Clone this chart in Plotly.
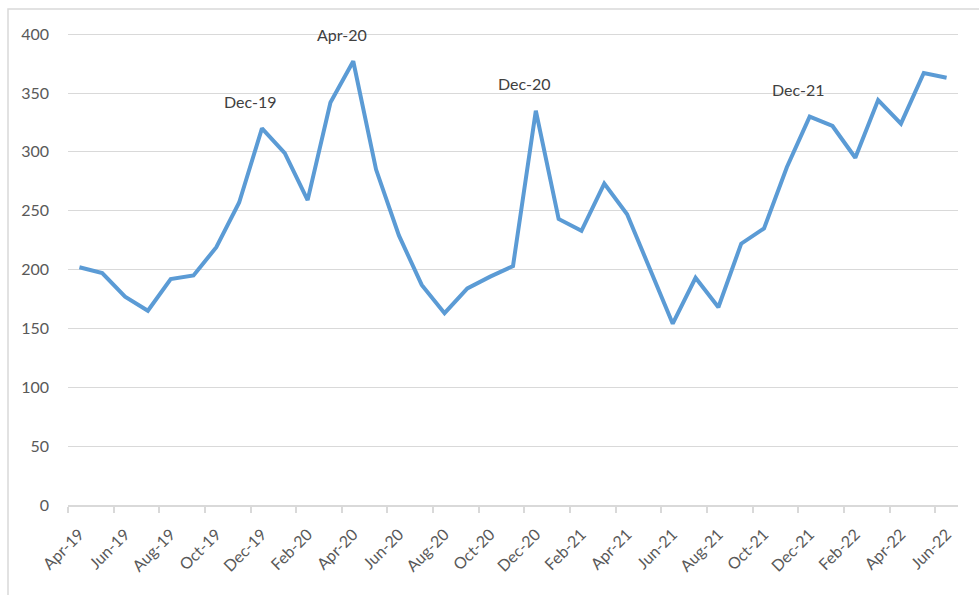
import plotly.graph_objects as go

months = ["Apr-19","May-19","Jun-19","Jul-19","Aug-19","Sep-19","Oct-19","Nov-19","Dec-19",
          "Jan-20","Feb-20","Mar-20","Apr-20","May-20","Jun-20","Jul-20","Aug-20","Sep-20",
          "Oct-20","Nov-20","Dec-20","Jan-21","Feb-21","Mar-21","Apr-21","May-21","Jun-21",
          "Jul-21","Aug-21","Sep-21","Oct-21","Nov-21","Dec-21","Jan-22","Feb-22","Mar-22",
          "Apr-22","May-22","Jun-22"]
values = [202, 197, 177, 165, 192, 195, 219, 257, 320,
          299, 259, 342, 377, 285, 229, 187, 163, 184,
          194, 203, 335, 243, 233, 273, 247, 201, 154,
          193, 168, 222, 235, 287, 330, 322, 295, 344,
          324, 367, 363]
labelled = ["Dec-19", "Apr-20", "Dec-20", "Dec-21"]
yticks = [0, 50, 100, 150, 200, 250, 300, 350, 400]

idx = list(range(len(months)))
tick_idx = idx[::2]

W, H = 979, 595
L, R, T, B = 68, 21, 33, 90

fig = go.Figure()
fig.add_trace(go.Scatter(
    x=idx, y=values, mode="lines",
    line=dict(color="#5B9BD5", width=4),
    hoverinfo="skip", showlegend=False,
))

for m in labelled:
    i = months.index(m)
    fig.add_annotation(x=i, y=values[i], text=m, showarrow=False,
                       xshift=-11, yshift=27,
                       font=dict(family="Lato", size=16, color="#404040"))

fig.update_layout(
    width=W, height=H,
    margin=dict(l=L, r=R, t=T, b=B),
    paper_bgcolor="white", plot_bgcolor="white",
    font=dict(family="Lato", size=15, color="#595959"),
    xaxis=dict(
        range=[-0.5, len(months) - 0.5],
        tickmode="array", tickvals=tick_idx, ticktext=[months[i] for i in tick_idx],
        tickangle=-45, ticks="", showgrid=False, zeroline=False,
        showline=True, linecolor="#d9d9d9", linewidth=1.5,
        ticklabelstandoff=12,
        tickfont=dict(family="Lato", size=16, color="#595959"),
        minor=dict(tickmode="array", tickvals=[i - 0.5 for i in tick_idx],
                   ticks="outside", ticklen=6, tickcolor="#d9d9d9", tickwidth=1.5,
                   showgrid=False),
        fixedrange=True,
    ),
    yaxis=dict(
        range=[0, 401], tickmode="array", tickvals=yticks,
        showgrid=True, gridcolor="#d9d9d9", gridwidth=1.3,
        zeroline=False, showline=False, ticks="",
        ticklabelstandoff=18,
        tickfont=dict(family="Lato", size=16, color="#595959"),
        fixedrange=True,
    ),
)

# outer chart border
fig.add_shape(type="rect", xref="paper", yref="paper",
              x0=(8 - L) / (W - L - R), x1=(W + 10 - L) / (W - L - R),
              y0=-(B + 10) / (H - T - B), y1=(H - B - 9) / (H - T - B),
              line=dict(color="#d9d9d9", width=1.5), fillcolor="rgba(0,0,0,0)",
              layer="below")

fig.write_html("out.html", config={"displayModeBar": False},
               post_script="document.body.style.margin='0';document.body.style.overflow='hidden';")
